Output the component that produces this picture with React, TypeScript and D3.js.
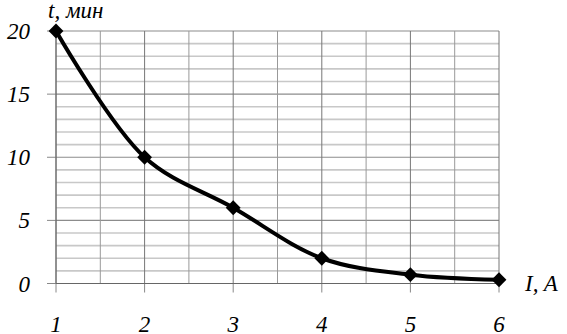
import * as d3 from "d3";

const currents = [1, 2, 3, 4, 5, 6];
const times = [20, 10, 6, 2, 0.7, 0.3];
const yTicks = [0, 5, 10, 15, 20];
const xTicks = [1, 2, 3, 4, 5, 6];

const W = 567;
const H = 334;

const labelStyle = { fontFamily: "Times New Roman", fontSize: 23, fontStyle: "italic" };

export default function App() {
  const x = d3.scaleLinear().domain([1, 6]).range([56, 499]);
  const y = d3.scaleLinear().domain([0, 20]).range([283.5, 31]);

  const line = d3
    .line<number>()
    .x((_, i) => x(currents[i]))
    .y((d) => y(d))
    .curve(d3.curveCatmullRom.alpha(0.5));

  const minorY = d3.range(0, 21, 1);
  const minorX = d3.range(1, 6.01, 0.5);

  return (
    <svg
      width={W}
      height={H}
      style={{ position: "absolute", left: 0, top: 0, background: "#fff" }}
    >
      {minorY.map((v) => (
        <line
          key={"hy" + v}
          x1={x(1)}
          x2={x(6)}
          y1={y(v)}
          y2={y(v)}
          stroke={v % 5 === 0 ? "#8c8c8c" : "#c8c8c8"}
          strokeWidth={v % 5 === 0 ? 1.2 : 1.6}
        />
      ))}
      {minorX.map((v) => (
        <line
          key={"vx" + v}
          x1={x(v)}
          x2={x(v)}
          y1={y(20)}
          y2={y(0)}
          stroke={Number.isInteger(v) ? "#777" : "#999"}
          strokeWidth={1}
        />
      ))}
      {yTicks.map((v) => (
        <line key={"ty" + v} x1={47} x2={x(1)} y1={y(v)} y2={y(v)} stroke="#888" />
      ))}
      {xTicks.map((v) => (
        <line key={"tx" + v} x1={x(v)} x2={x(v)} y1={y(0)} y2={y(0) + 9} stroke="#888" />
      ))}
      <line x1={x(1)} x2={x(1)} y1={y(20)} y2={y(0)} stroke="#666" />
      <line x1={x(1)} x2={x(6)} y1={y(0)} y2={y(0)} stroke="#666" />

      <path d={line(times) ?? ""} fill="none" stroke="#000" strokeWidth={4} />
      {times.map((t, i) => (
        <path
          key={"m" + i}
          d={d3.symbol(d3.symbolSquare, 110)() ?? ""}
          fill="#000"
          transform={`translate(${x(currents[i])},${y(t)}) rotate(45)`}
        />
      ))}

      {yTicks.map((v) => (
        <text key={"ly" + v} x={30} y={y(v) + 8} textAnchor="end" style={labelStyle}>
          {String(v)}
        </text>
      ))}
      {xTicks.map((v) => (
        <text key={"lx" + v} x={x(v)} y={332} textAnchor="middle" style={labelStyle}>
          {String(v)}
        </text>
      ))}
      <text x={48} y={18} style={labelStyle}>
        t, мин
      </text>
      <text x={525} y={291} style={labelStyle}>
        I, A
      </text>
    </svg>
  );
}
